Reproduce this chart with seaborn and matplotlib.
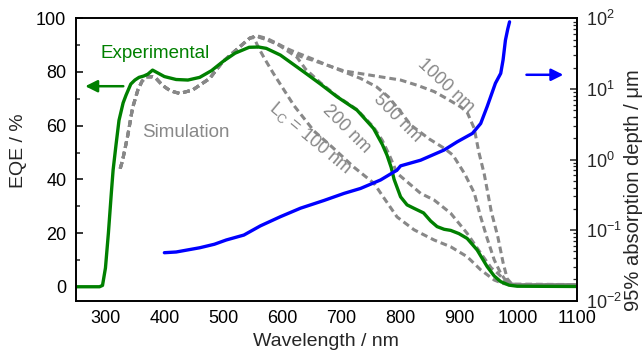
import numpy as np
import pandas as pd
import matplotlib
matplotlib.use("Agg")
import matplotlib.pyplot as plt
import seaborn as sns

# ---------------- data ----------------
exp_wl = [250, 290, 295, 300, 305, 310, 313, 318, 323, 330, 335, 343, 350, 357, 365, 372, 380,
          390, 400, 420, 440, 460, 480, 500, 520, 544, 560, 573, 597, 637, 665, 693, 727,
          755, 770, 778, 785, 790, 801, 812, 823, 840, 852, 863, 875, 886, 900, 914, 931,
          948, 960, 971, 985, 999, 1100]
exp_eqe = [0, 0, 0.5, 7, 20, 35, 43.5, 53, 62, 68.5, 71.4, 75.5, 77, 78, 78.5, 79.2, 80.7,
           79.5, 78.3, 77.2, 77, 78, 80.5, 84, 87, 89.2, 89.3, 88.8, 86.3, 80, 75.5, 70.8, 65.8,
           59, 53, 49, 44.5, 40, 33.5, 30.5, 29.3, 27.5, 24.5, 22.4, 21.4, 21, 19.8, 18, 13.7,
           7.5, 4, 1.9, 0.6, 0.2, 0.1]

# common short-wavelength part of the simulations
sim_wl_common = [325, 329, 338, 346, 355, 362, 369, 380, 386, 397, 410, 426, 448, 477, 499, 528, 545]
sim_eqe_common = [44, 47, 56.5, 66.6, 73.3, 76.5, 78.2, 78.2, 77.6, 75, 73, 72, 73.3, 77.6, 83.8, 89.4, 92.6]

sim100_wl = [552, 560, 570, 585, 620, 654, 685, 722, 756, 773, 795, 824, 858, 886, 914, 937, 960, 975, 990, 1100]
sim100_eqe = [92.8, 89, 85, 79.5, 67.5, 58, 52, 44.5, 38.5, 33, 26, 21.2, 17.4, 14.9, 11.2, 6.3, 2.5, 1.2, 0.8, 0.8]

sim200_wl = [555, 575, 591, 625, 640, 665, 693, 727, 755, 770, 782, 795, 835, 858, 886, 914, 937, 955, 966, 980, 995, 1100]
sim200_eqe = [93.3, 92, 90.5, 85.5, 81, 76, 71, 66, 59.5, 54.5, 49, 42.3, 34.8, 32.3, 27.4, 19.9, 12.5, 7, 5, 2, 0.8, 0.8]

sim500_wl = [556, 574, 600, 620, 650, 676, 700, 733, 760, 780, 800, 818, 850, 875, 890, 910, 926, 937, 948, 960, 971, 982, 995, 1100]
sim500_eqe = [93.5, 92, 89.5, 87.6, 85, 82.6, 80.5, 77.6, 74.5, 70.8, 65.5, 60.3, 55, 51.6, 49, 42, 35, 26, 18, 10, 5, 1.5, 0.8, 0.8]

sim1000_wl = [557, 574, 597, 631, 650, 705, 750, 801, 830, 858, 880, 903, 914, 926, 934, 943, 955, 966, 975, 982, 990, 1100]
sim1000_eqe = [93.5, 92.5, 90, 85.8, 84.5, 80.4, 78.8, 77, 75, 72.7, 70, 67, 65, 59, 50, 42, 28, 18.7, 9, 3, 1.0, 0.8]

abs_wl = [400, 420, 440, 460, 485, 505, 535, 563, 597, 631, 671, 705, 733, 767, 795, 801, 835,
          875, 897, 923, 937, 948, 962, 971, 975, 979, 983, 986]
abs_log = [-1.32, -1.31, -1.28, -1.25, -1.2, -1.14, -1.07, -0.94, -0.81, -0.69, -0.58, -0.48,
           -0.41, -0.29, -0.15, -0.09, -0.01, 0.135, 0.25, 0.37, 0.51, 0.75, 1.08, 1.22, 1.41, 1.69, 1.85, 1.95]
abs_depth = [10 ** v for v in abs_log]

x_ticks = [300, 400, 500, 600, 700, 800, 900, 1000, 1100]
y_ticks = [0, 20, 40, 60, 80, 100]

# ---------------- style ----------------
sns.set_theme(style="white")
plt.rcParams["font.family"] = ["Liberation Sans", "DejaVu Sans"]
plt.rcParams["mathtext.fontset"] = "custom"
plt.rcParams["mathtext.rm"] = "Liberation Sans"
plt.rcParams["mathtext.it"] = "Liberation Sans:italic"
plt.rcParams["axes.edgecolor"] = "black"
plt.rcParams["axes.linewidth"] = 1.2

GREEN = "#008000"
GREY = "#888888"
BLUE = "#0000ff"

fig = plt.figure(figsize=(6.43, 3.56), dpi=100)
ax = fig.add_axes([0.1182, 0.1553, 0.7787, 0.7933])
ax2 = ax.twinx()

dash = (0, (2.2, 1.3))
sims = [(sim100_wl, sim100_eqe), (sim200_wl, sim200_eqe), (sim500_wl, sim500_eqe), (sim1000_wl, sim1000_eqe)]
for wl, eq in sims:
    df = pd.DataFrame({"wl": sim_wl_common + wl, "eqe": sim_eqe_common + eq})
    sns.lineplot(data=df, x="wl", y="eqe", ax=ax, color=GREY, lw=2.2, sort=False,
                 estimator=None, linestyle=dash)

df_exp = pd.DataFrame({"wl": exp_wl, "eqe": exp_eqe})
sns.lineplot(data=df_exp, x="wl", y="eqe", ax=ax, color=GREEN, lw=2.4, sort=False, estimator=None)

df_abs = pd.DataFrame({"wl": abs_wl, "d": abs_depth})
sns.lineplot(data=df_abs, x="wl", y="d", ax=ax2, color=BLUE, lw=2.4, sort=False, estimator=None)

ax.set_xlim(250, 1100)
ax.set_ylim(-5.2, 100)
ax2.set_yscale("log")
ax2.set_ylim(1e-2, 1e2)

ax.set_xticks(x_ticks)
ax.set_yticks(y_ticks)
ax.set_xticks(np.arange(350, 1100, 100), minor=True)
ax.set_yticks(np.arange(10, 100, 20), minor=True)

for a in (ax, ax2):
    for s in a.spines.values():
        s.set_visible(True)
        s.set_color("black")
        s.set_linewidth(1.2)

ax.tick_params(axis="both", which="major", direction="in", length=5, width=1.1,
               labelsize=13, colors="black", top=False, right=False, pad=7)
ax.tick_params(axis="both", which="minor", direction="in", length=3, width=1.1,
               top=False, right=False)
ax2.tick_params(axis="y", which="major", direction="in", length=5, width=1.1, labelsize=13, pad=7)
ax2.tick_params(axis="y", which="minor", direction="in", length=3, width=0.9)

ax.set_xlabel("Wavelength / nm", fontsize=14)
ax.xaxis.set_label_coords(0.5, -0.115)
ax.set_ylabel("EQE / %", fontsize=14)
ax.yaxis.set_label_coords(-0.098, 0.53)
ax2.set_ylabel("95% absorption depth / \u03bcm", fontsize=14.5)
ax2.yaxis.set_label_coords(1.094, 0.39)

# annotations
ax.text(384, 87, "Experimental", color=GREEN, fontsize=13.5, ha="center", va="center")
ax.text(437, 57.3, "Simulation", color=GREY, fontsize=13.5, ha="center", va="center")
ax.annotate("", xy=(261, 74.7), xytext=(335, 74.7),
            arrowprops=dict(arrowstyle="-|>,head_length=0.6,head_width=0.3", color=GREEN, lw=1.8))
ax2.annotate("", xy=(1082, 10 ** 1.2), xytext=(1010, 10 ** 1.2),
             arrowprops=dict(arrowstyle="-|>,head_length=0.6,head_width=0.3", color=BLUE, lw=1.8))

ax.text(648, 55.4, "L$_\\mathregular{C}$ = 100 nm", color=GREY, fontsize=13, rotation=-40,
        ha="center", va="center", rotation_mode="anchor")
ax.text(710, 58.8, "200 nm", color=GREY, fontsize=13, rotation=-45,
        ha="center", va="center", rotation_mode="anchor")
ax.text(795, 63, "500 nm", color=GREY, fontsize=13, rotation=-45,
        ha="center", va="center", rotation_mode="anchor")
ax.text(878, 74.8, "1000 nm", color=GREY, fontsize=13, rotation=-43,
        ha="center", va="center", rotation_mode="anchor")

fig.savefig("out.png", dpi=100)
